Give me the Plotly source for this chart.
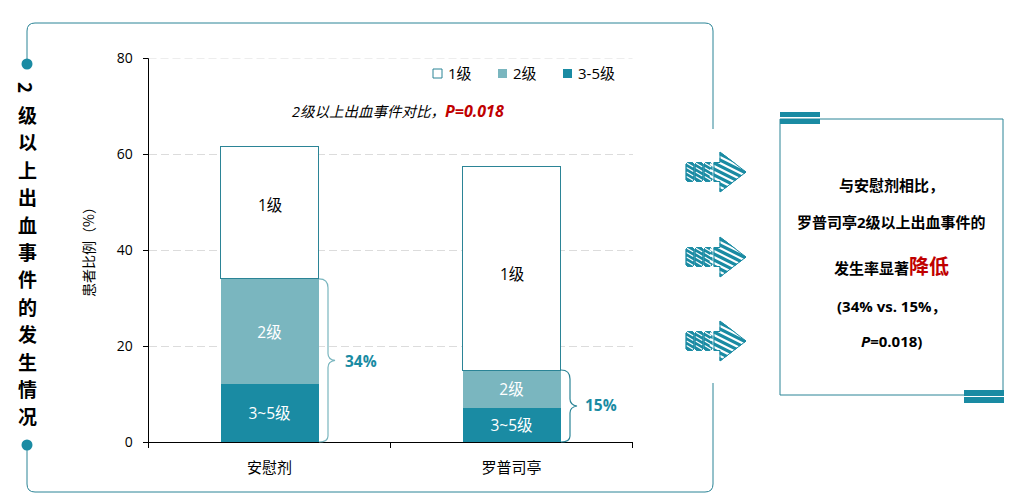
import plotly.graph_objects as go

W, H = 1024, 501
TEAL = '#1a8ba3'
LINE = '#2b8496'
MID = '#7ab6bf'
RED = '#c00000'
GRID = '#dcdcdc'
FONT = 'Open Sans, Noto Sans CJK SC, sans-serif'
CJK = 'Noto Sans CJK SC, sans-serif'

# data
groups = ['安慰剂', '罗普司亭']
grade_3_5 = [12, 7]
grade_2 = [22, 8]
grade_1 = [27.5, 42.5]
grade_1_label_y = [49.4, 35]
y_ticks = [0, 20, 40, 60, 80]
legend_names = ['1级', '2级', '3-5级']
brace_labels = ['34%', '15%']
side_title = list('2级以上出血事件的发生情况')
summary_lines = [
    '<b>与安慰剂相比，</b>',
    '<b>罗普司亭2级以上出血事件的</b>',
    f'<b>发生率显著<span style="color:{RED};font-size:20px">降低</span></b>',
    '<b>(34% vs. 15%，</b>',
    '<b><i>P</i>=0.018)</b>',
]
summary_y = [185, 222, 266, 306, 341]


def px(x):
    return x / W


def py(y):
    return 1 - y / H


def val_y(v):
    # plot area runs from y=442 (0) to y=58 (80)
    return 442 - v * 4.8


def path(*cmds):
    # cmds are (letter, x, y, ...) in page pixels
    out = []
    for c in cmds:
        nums = c[1:]
        pts = [f'{px(nums[i])},{py(nums[i + 1])}' for i in range(0, len(nums), 2)]
        out.append(c[0] + ' ' + ' '.join(pts))
    return ' '.join(out)


shapes = []


def add_path(d, color, width=1, fill=None):
    shapes.append(dict(type='path', xref='paper', yref='paper', path=d,
                       line=dict(color=color, width=width),
                       fillcolor=fill if fill else 'rgba(0,0,0,0)'))


def add_box(x0, y0, x1, y1, fill, line=None):
    shapes.append(dict(type='rect', xref='paper', yref='paper', x0=px(x0), x1=px(x1),
                       y0=py(y0), y1=py(y1), fillcolor=fill,
                       line=dict(color=line, width=1) if line else dict(width=0)))


def add_dot(x, y, r):
    shapes.append(dict(type='circle', xref='paper', yref='paper', x0=px(x - r), x1=px(x + r),
                       y0=py(y - r), y1=py(y + r), fillcolor=TEAL, line=dict(width=0)))


def add_brace(x, top, bottom, color):
    mid = (top + bottom) / 2
    add_path(path(('M', x, top), ('Q', x + 9, top, x + 9, top + 9),
                  ('L', x + 9, mid - 7), ('Q', x + 9, mid - 1, x + 16, mid),
                  ('Q', x + 9, mid + 1, x + 9, mid + 7),
                  ('L', x + 9, bottom - 6), ('Q', x + 9, bottom, x, bottom)), color, 1.2)


def add_arrow(cy):
    # pillars
    for x0, x1 in [(686, 694), (695, 703), (704, 712)]:
        outline = path(('M', x0 + 1.5, cy - 9.5), ('L', x1 - 1.5, cy - 9.5), ('L', x1, cy - 8),
                       ('L', x1, cy + 8), ('L', x1 - 1.5, cy + 9.5), ('L', x0 + 1.5, cy + 9.5),
                       ('L', x0, cy + 8), ('L', x0, cy - 8), ('Z',))
        add_path(outline, TEAL, 0.8, TEAL)
        for k in (-7, -2.5, 2, 6.5):
            add_path(path(('M', x0 + 0.6, cy + k - 2), ('L', x1 - 0.6, cy + k + 2)), 'white', 1.2)
        add_path(outline, TEAL, 0.8)
    # head
    outline = path(('M', 714, cy - 9.5), ('L', 720, cy - 9.5), ('L', 720, cy - 20),
                   ('L', 746, cy), ('L', 720, cy + 20), ('L', 720, cy + 9.5),
                   ('L', 714, cy + 9.5), ('Z',))
    add_path(outline, TEAL, 1, TEAL)
    for k in range(-20, 24, 6):
        add_path(path(('M', 710, cy + k - 6), ('L', 750, cy + k + 14)), 'white', 2)
    add_path(outline, TEAL, 1)


# outer frame, open on the right and around the dots on the left
add_path(path(('M', 27, 64), ('L', 27, 31), ('Q', 27, 23, 35, 23), ('L', 705, 23),
              ('Q', 713, 23, 713, 31), ('L', 713, 129)), LINE)
add_path(path(('M', 713, 383), ('L', 713, 484), ('Q', 713, 492, 705, 492), ('L', 35, 492),
              ('Q', 27, 492, 27, 484), ('L', 27, 445)), LINE)
add_dot(27, 64, 5.5)
add_dot(27, 445, 5.5)

# right hand box
add_path(path(('M', 780, 119), ('L', 1003, 119), ('L', 1003, 395), ('L', 780, 395), ('Z',)), LINE)
add_box(780, 112, 820, 117, TEAL)
add_box(780, 119, 820, 124, TEAL)
add_box(964, 390, 1004, 396, TEAL)
add_box(964, 397, 1004, 403, TEAL)

for cy in (172, 257, 341):
    add_arrow(cy)

add_brace(319, val_y(grade_3_5[0] + grade_2[0]), val_y(0), MID)
add_brace(561, val_y(grade_3_5[1] + grade_2[1]), val_y(0), LINE)

# plotly leaves out the gridline at the very end of the range
shapes.append(dict(type='line', xref='x domain', yref='y', x0=0, x1=1, y0=y_ticks[-1], y1=y_ticks[-1],
                   line=dict(color=GRID, width=1, dash='8px,4px')))

annotations = []


def note(text, x, y, size=14, color='black', family=FONT, angle=0, anchor='center'):
    annotations.append(dict(text=text, x=px(x), y=py(y), xref='paper', yref='paper',
                            showarrow=False, xanchor=anchor, yanchor='middle',
                            textangle=angle, font=dict(size=size, color=color, family=family)))


for i, ch in enumerate(side_title):
    note(f'<b>{ch}</b>', 27, 87 + i * 27.4, 19, family=CJK, angle=90 if ch == '2' else 0)

note('患者比例（%）', 88, 249, 14, family=CJK, angle=-90)
note(f'<i>2级以上出血事件对比，<b><span style="color:{RED};font-size:16px">P=0.018</span></b></i>',
     398, 111, 14.5)
note(f'<b>{brace_labels[0]}</b>', 361, 361, 15.5, TEAL)
note(f'<b>{brace_labels[1]}</b>', 601, 405, 15.5, TEAL)
for line, y in zip(summary_lines, summary_y):
    note(line, 891, y, 15)

# legend
swatches = [('white', LINE), (MID, None), (TEAL, None)]
for name, x, (fill, edge) in zip(legend_names, (433, 498, 563), swatches):
    add_box(x, 69, x + 9, 78, fill, edge)
    note(name, x + 13, 73, 15, anchor='left')

for g, y in zip(groups, grade_1_label_y):
    annotations.append(dict(text='1级', x=g, y=y, xref='x', yref='y', showarrow=False,
                            font=dict(size=15.5, color='black', family=FONT)))

fig = go.Figure()
fig.add_trace(go.Bar(x=groups, y=grade_3_5, name='3-5级',
                     text=['3~5级', '3~5级'], textposition='inside', insidetextanchor='middle',
                     textangle=0, textfont=dict(color='white', size=15.5, family=FONT),
                     marker=dict(color=TEAL, line=dict(width=0))))
fig.add_trace(go.Bar(x=groups, y=grade_2, name='2级',
                     text=['2级', '2级'], textposition='inside', insidetextanchor='middle',
                     textangle=0, textfont=dict(color='white', size=15.5, family=FONT),
                     marker=dict(color=MID, line=dict(width=0))))
fig.add_trace(go.Bar(x=groups, y=grade_1, name='1级',
                     marker=dict(color='white', line=dict(color=LINE, width=1))))

fig.update_layout(
    width=W, height=H,
    margin=dict(l=0, r=0, t=0, b=0, autoexpand=False),
    paper_bgcolor='white', plot_bgcolor='white',
    font=dict(family=FONT, size=14, color='black'),
    barmode='stack', bargap=0.595, showlegend=False,
    shapes=shapes, annotations=annotations,
    xaxis=dict(domain=[px(148.5), px(632.5)], showgrid=False, showline=True, linecolor='black',
               linewidth=1, ticks='outside', ticklen=5, tickcolor='black', tickson='boundaries',
               ticklabelstandoff=12, tickfont=dict(size=15, family=CJK)),
    yaxis=dict(domain=[py(442), py(58)], range=[0, 80], tickvals=y_ticks, showline=True,
               linecolor='black', linewidth=1, ticks='outside', ticklen=5, tickcolor='black',
               gridcolor=GRID, griddash='8px,4px', gridwidth=1, zeroline=False,
               ticklabelstandoff=7, tickfont=dict(size=14)),
)

fig.write_html("out.html", config={'displayModeBar': False},
               post_script="document.body.style.margin='0';")
